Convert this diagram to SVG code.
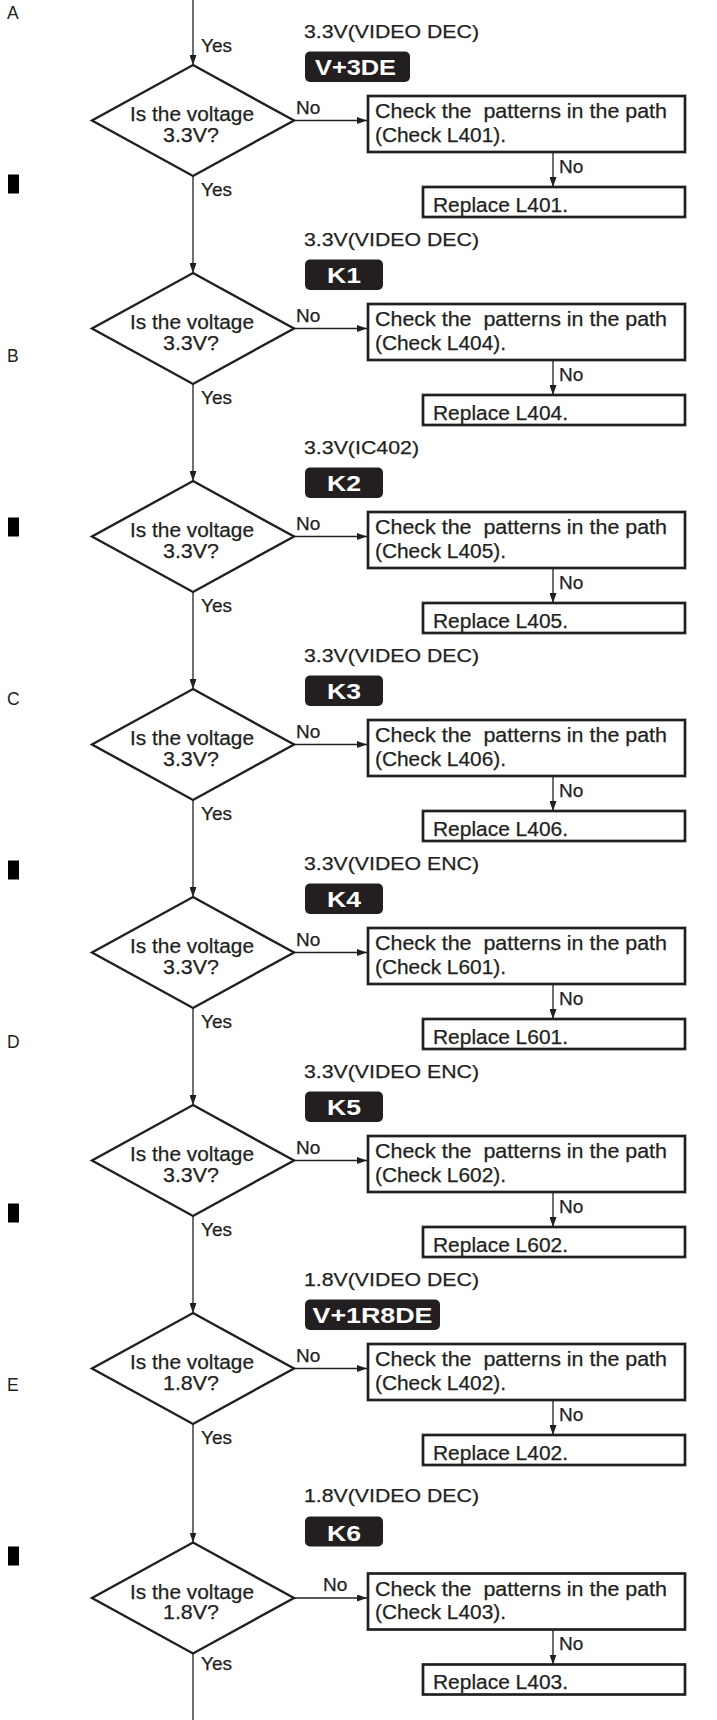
<svg xmlns="http://www.w3.org/2000/svg" width="717" height="1720" viewBox="0 0 717 1720">
<style>
.t{font-family:"Liberation Sans",Arial,Helvetica,sans-serif;font-size:19px;fill:#231f20;stroke:#231f20;stroke-width:0.25}
.n{font-size:20px}
.m{font-family:"Liberation Sans",Arial,Helvetica,sans-serif;font-size:17.5px;fill:#231f20}
.b{font-family:"Liberation Sans",Arial,Helvetica,sans-serif;font-size:22.5px;font-weight:bold;fill:#fff}
.box{fill:#fff;stroke:#231f20;stroke-width:2.7}
.dia{fill:#fff;stroke:#231f20;stroke-width:2.4;stroke-linejoin:miter}
.ln{stroke:#231f20;stroke-width:1.3;fill:none}
.lab{fill:#231f20}
.bar{fill:#000}
</style>
<defs>
<marker id="ah" markerUnits="userSpaceOnUse" markerWidth="10" markerHeight="7" refX="10" refY="3.5" orient="auto">
<path d="M0,0 L10,3.5 L0,7 z" fill="#231f20"/>
</marker>
</defs>
<rect width="717" height="1720" fill="#fff"/>

<g id="margin">
<text class="m" x="7" y="19.3">A</text>
<text class="m" x="7" y="362">B</text>
<text class="m" x="7" y="705">C</text>
<text class="m" x="7" y="1048">D</text>
<text class="m" x="7" y="1391">E</text>
<rect class="bar" x="8" y="174.5" width="11" height="19"/>
<rect class="bar" x="8" y="517.5" width="11" height="19"/>
<rect class="bar" x="8" y="860.5" width="11" height="19"/>
<rect class="bar" x="8" y="1203.5" width="11" height="19"/>
<rect class="bar" x="8" y="1546.5" width="11" height="19"/>
</g>

<g id="connectors">
<line class="ln" x1="193" y1="0" x2="193" y2="65" marker-end="url(#ah)"/>
<line class="ln" x1="193" y1="176" x2="193" y2="273" marker-end="url(#ah)"/>
<line class="ln" x1="193" y1="384" x2="193" y2="481" marker-end="url(#ah)"/>
<line class="ln" x1="193" y1="592" x2="193" y2="689" marker-end="url(#ah)"/>
<line class="ln" x1="193" y1="800" x2="193" y2="897" marker-end="url(#ah)"/>
<line class="ln" x1="193" y1="1008" x2="193" y2="1105" marker-end="url(#ah)"/>
<line class="ln" x1="193" y1="1216" x2="193" y2="1313" marker-end="url(#ah)"/>
<line class="ln" x1="193" y1="1424" x2="193" y2="1542.5" marker-end="url(#ah)"/>
<line class="ln" x1="193" y1="1653.5" x2="193" y2="1720"/>

<line class="ln" x1="294" y1="120.5" x2="367" y2="120.5" marker-end="url(#ah)"/>
<line class="ln" x1="294" y1="328.5" x2="367" y2="328.5" marker-end="url(#ah)"/>
<line class="ln" x1="294" y1="536.5" x2="367" y2="536.5" marker-end="url(#ah)"/>
<line class="ln" x1="294" y1="744.5" x2="367" y2="744.5" marker-end="url(#ah)"/>
<line class="ln" x1="294" y1="952.5" x2="367" y2="952.5" marker-end="url(#ah)"/>
<line class="ln" x1="294" y1="1160.5" x2="367" y2="1160.5" marker-end="url(#ah)"/>
<line class="ln" x1="294" y1="1368.5" x2="367" y2="1368.5" marker-end="url(#ah)"/>
<line class="ln" x1="294" y1="1598" x2="367" y2="1598" marker-end="url(#ah)"/>

<line class="ln" x1="553" y1="152" x2="553" y2="187" marker-end="url(#ah)"/>
<line class="ln" x1="553" y1="360" x2="553" y2="395" marker-end="url(#ah)"/>
<line class="ln" x1="553" y1="568" x2="553" y2="603" marker-end="url(#ah)"/>
<line class="ln" x1="553" y1="776" x2="553" y2="811" marker-end="url(#ah)"/>
<line class="ln" x1="553" y1="984" x2="553" y2="1019" marker-end="url(#ah)"/>
<line class="ln" x1="553" y1="1192" x2="553" y2="1227" marker-end="url(#ah)"/>
<line class="ln" x1="553" y1="1400" x2="553" y2="1435" marker-end="url(#ah)"/>
<line class="ln" x1="553" y1="1629.5" x2="553" y2="1664.5" marker-end="url(#ah)"/>

<text class="t" x="201" y="51.7">Yes</text>
<text class="t" x="201" y="196">Yes</text>
<text class="t" x="201" y="404">Yes</text>
<text class="t" x="201" y="612">Yes</text>
<text class="t" x="201" y="820">Yes</text>
<text class="t" x="201" y="1028">Yes</text>
<text class="t" x="201" y="1236">Yes</text>
<text class="t" x="201" y="1444">Yes</text>
<text class="t" x="201" y="1670">Yes</text>

<text class="t" x="296" y="114">No</text>
<text class="t" x="296" y="322">No</text>
<text class="t" x="296" y="530">No</text>
<text class="t" x="296" y="738">No</text>
<text class="t" x="296" y="946">No</text>
<text class="t" x="296" y="1154">No</text>
<text class="t" x="296" y="1362">No</text>
<text class="t" x="323" y="1590.5">No</text>

<text class="t" x="559" y="172.7">No</text>
<text class="t" x="559" y="380.7">No</text>
<text class="t" x="559" y="588.7">No</text>
<text class="t" x="559" y="796.7">No</text>
<text class="t" x="559" y="1004.7">No</text>
<text class="t" x="559" y="1212.7">No</text>
<text class="t" x="559" y="1420.7">No</text>
<text class="t" x="559" y="1650">No</text>
</g>

<!-- Section 1 -->
<g id="label1" transform="translate(0,0)">
<text class="t" x="304" y="38" textLength="175" lengthAdjust="spacingAndGlyphs">3.3V(VIDEO DEC)</text>
<rect class="lab" x="305" y="51.5" width="105" height="30.5" rx="5"/>
<text class="b" x="315" y="75" textLength="81" lengthAdjust="spacingAndGlyphs">V+3DE</text>
</g>
<g id="decision1" transform="translate(0,0)">
<polygon class="dia" points="193,65 294,120.5 193,176 92,120.5"/>
<text class="t n" x="192" y="121" text-anchor="middle" textLength="124" lengthAdjust="spacingAndGlyphs">Is the voltage</text>
<text class="t n" x="191" y="141.7" text-anchor="middle" textLength="56" lengthAdjust="spacingAndGlyphs">3.3V?</text>
</g>
<g id="check1" transform="translate(0,0)">
<rect class="box" x="368" y="96" width="317" height="56"/>
<text class="t n" x="375" y="118.3" textLength="292" lengthAdjust="spacingAndGlyphs" xml:space="preserve">Check the  patterns in the path</text>
<text class="t n" x="375" y="141.7" textLength="131" lengthAdjust="spacingAndGlyphs">(Check L401).</text>
</g>
<g id="replace1" transform="translate(0,0)">
<rect class="box" x="423" y="187" width="262" height="30"/>
<text class="t n" x="433" y="211.7" textLength="135" lengthAdjust="spacingAndGlyphs">Replace L401.</text>
</g>

<!-- Section 2 -->
<g id="label2" transform="translate(0,208)">
<text class="t" x="304" y="38" textLength="175" lengthAdjust="spacingAndGlyphs">3.3V(VIDEO DEC)</text>
<rect class="lab" x="305" y="51.5" width="78" height="30.5" rx="5"/>
<text class="b" x="344" y="75" text-anchor="middle" textLength="34" lengthAdjust="spacingAndGlyphs">K1</text>
</g>
<g id="decision2" transform="translate(0,208)">
<polygon class="dia" points="193,65 294,120.5 193,176 92,120.5"/>
<text class="t n" x="192" y="121" text-anchor="middle" textLength="124" lengthAdjust="spacingAndGlyphs">Is the voltage</text>
<text class="t n" x="191" y="141.7" text-anchor="middle" textLength="56" lengthAdjust="spacingAndGlyphs">3.3V?</text>
</g>
<g id="check2" transform="translate(0,208)">
<rect class="box" x="368" y="96" width="317" height="56"/>
<text class="t n" x="375" y="118.3" textLength="292" lengthAdjust="spacingAndGlyphs" xml:space="preserve">Check the  patterns in the path</text>
<text class="t n" x="375" y="141.7" textLength="131" lengthAdjust="spacingAndGlyphs">(Check L404).</text>
</g>
<g id="replace2" transform="translate(0,208)">
<rect class="box" x="423" y="187" width="262" height="30"/>
<text class="t n" x="433" y="211.7" textLength="135" lengthAdjust="spacingAndGlyphs">Replace L404.</text>
</g>

<!-- Section 3 -->
<g id="label3" transform="translate(0,416)">
<text class="t" x="304" y="38" textLength="115" lengthAdjust="spacingAndGlyphs">3.3V(IC402)</text>
<rect class="lab" x="305" y="51.5" width="78" height="30.5" rx="5"/>
<text class="b" x="344" y="75" text-anchor="middle" textLength="34" lengthAdjust="spacingAndGlyphs">K2</text>
</g>
<g id="decision3" transform="translate(0,416)">
<polygon class="dia" points="193,65 294,120.5 193,176 92,120.5"/>
<text class="t n" x="192" y="121" text-anchor="middle" textLength="124" lengthAdjust="spacingAndGlyphs">Is the voltage</text>
<text class="t n" x="191" y="141.7" text-anchor="middle" textLength="56" lengthAdjust="spacingAndGlyphs">3.3V?</text>
</g>
<g id="check3" transform="translate(0,416)">
<rect class="box" x="368" y="96" width="317" height="56"/>
<text class="t n" x="375" y="118.3" textLength="292" lengthAdjust="spacingAndGlyphs" xml:space="preserve">Check the  patterns in the path</text>
<text class="t n" x="375" y="141.7" textLength="131" lengthAdjust="spacingAndGlyphs">(Check L405).</text>
</g>
<g id="replace3" transform="translate(0,416)">
<rect class="box" x="423" y="187" width="262" height="30"/>
<text class="t n" x="433" y="211.7" textLength="135" lengthAdjust="spacingAndGlyphs">Replace L405.</text>
</g>

<!-- Section 4 -->
<g id="label4" transform="translate(0,624)">
<text class="t" x="304" y="38" textLength="175" lengthAdjust="spacingAndGlyphs">3.3V(VIDEO DEC)</text>
<rect class="lab" x="305" y="51.5" width="78" height="30.5" rx="5"/>
<text class="b" x="344" y="75" text-anchor="middle" textLength="34" lengthAdjust="spacingAndGlyphs">K3</text>
</g>
<g id="decision4" transform="translate(0,624)">
<polygon class="dia" points="193,65 294,120.5 193,176 92,120.5"/>
<text class="t n" x="192" y="121" text-anchor="middle" textLength="124" lengthAdjust="spacingAndGlyphs">Is the voltage</text>
<text class="t n" x="191" y="141.7" text-anchor="middle" textLength="56" lengthAdjust="spacingAndGlyphs">3.3V?</text>
</g>
<g id="check4" transform="translate(0,624)">
<rect class="box" x="368" y="96" width="317" height="56"/>
<text class="t n" x="375" y="118.3" textLength="292" lengthAdjust="spacingAndGlyphs" xml:space="preserve">Check the  patterns in the path</text>
<text class="t n" x="375" y="141.7" textLength="131" lengthAdjust="spacingAndGlyphs">(Check L406).</text>
</g>
<g id="replace4" transform="translate(0,624)">
<rect class="box" x="423" y="187" width="262" height="30"/>
<text class="t n" x="433" y="211.7" textLength="135" lengthAdjust="spacingAndGlyphs">Replace L406.</text>
</g>

<!-- Section 5 -->
<g id="label5" transform="translate(0,832)">
<text class="t" x="304" y="38" textLength="175" lengthAdjust="spacingAndGlyphs">3.3V(VIDEO ENC)</text>
<rect class="lab" x="305" y="51.5" width="78" height="30.5" rx="5"/>
<text class="b" x="344" y="75" text-anchor="middle" textLength="34" lengthAdjust="spacingAndGlyphs">K4</text>
</g>
<g id="decision5" transform="translate(0,832)">
<polygon class="dia" points="193,65 294,120.5 193,176 92,120.5"/>
<text class="t n" x="192" y="121" text-anchor="middle" textLength="124" lengthAdjust="spacingAndGlyphs">Is the voltage</text>
<text class="t n" x="191" y="141.7" text-anchor="middle" textLength="56" lengthAdjust="spacingAndGlyphs">3.3V?</text>
</g>
<g id="check5" transform="translate(0,832)">
<rect class="box" x="368" y="96" width="317" height="56"/>
<text class="t n" x="375" y="118.3" textLength="292" lengthAdjust="spacingAndGlyphs" xml:space="preserve">Check the  patterns in the path</text>
<text class="t n" x="375" y="141.7" textLength="131" lengthAdjust="spacingAndGlyphs">(Check L601).</text>
</g>
<g id="replace5" transform="translate(0,832)">
<rect class="box" x="423" y="187" width="262" height="30"/>
<text class="t n" x="433" y="211.7" textLength="135" lengthAdjust="spacingAndGlyphs">Replace L601.</text>
</g>

<!-- Section 6 -->
<g id="label6" transform="translate(0,1040)">
<text class="t" x="304" y="38" textLength="175" lengthAdjust="spacingAndGlyphs">3.3V(VIDEO ENC)</text>
<rect class="lab" x="305" y="51.5" width="78" height="30.5" rx="5"/>
<text class="b" x="344" y="75" text-anchor="middle" textLength="34" lengthAdjust="spacingAndGlyphs">K5</text>
</g>
<g id="decision6" transform="translate(0,1040)">
<polygon class="dia" points="193,65 294,120.5 193,176 92,120.5"/>
<text class="t n" x="192" y="121" text-anchor="middle" textLength="124" lengthAdjust="spacingAndGlyphs">Is the voltage</text>
<text class="t n" x="191" y="141.7" text-anchor="middle" textLength="56" lengthAdjust="spacingAndGlyphs">3.3V?</text>
</g>
<g id="check6" transform="translate(0,1040)">
<rect class="box" x="368" y="96" width="317" height="56"/>
<text class="t n" x="375" y="118.3" textLength="292" lengthAdjust="spacingAndGlyphs" xml:space="preserve">Check the  patterns in the path</text>
<text class="t n" x="375" y="141.7" textLength="131" lengthAdjust="spacingAndGlyphs">(Check L602).</text>
</g>
<g id="replace6" transform="translate(0,1040)">
<rect class="box" x="423" y="187" width="262" height="30"/>
<text class="t n" x="433" y="211.7" textLength="135" lengthAdjust="spacingAndGlyphs">Replace L602.</text>
</g>

<!-- Section 7 -->
<g id="label7" transform="translate(0,1248)">
<text class="t" x="304" y="38" textLength="175" lengthAdjust="spacingAndGlyphs">1.8V(VIDEO DEC)</text>
<rect class="lab" x="305" y="51.5" width="135" height="30.5" rx="5"/>
<text class="b" x="312.5" y="75" textLength="120" lengthAdjust="spacingAndGlyphs">V+1R8DE</text>
</g>
<g id="decision7" transform="translate(0,1248)">
<polygon class="dia" points="193,65 294,120.5 193,176 92,120.5"/>
<text class="t n" x="192" y="121" text-anchor="middle" textLength="124" lengthAdjust="spacingAndGlyphs">Is the voltage</text>
<text class="t n" x="191" y="141.7" text-anchor="middle" textLength="56" lengthAdjust="spacingAndGlyphs">1.8V?</text>
</g>
<g id="check7" transform="translate(0,1248)">
<rect class="box" x="368" y="96" width="317" height="56"/>
<text class="t n" x="375" y="118.3" textLength="292" lengthAdjust="spacingAndGlyphs" xml:space="preserve">Check the  patterns in the path</text>
<text class="t n" x="375" y="141.7" textLength="131" lengthAdjust="spacingAndGlyphs">(Check L402).</text>
</g>
<g id="replace7" transform="translate(0,1248)">
<rect class="box" x="423" y="187" width="262" height="30"/>
<text class="t n" x="433" y="211.7" textLength="135" lengthAdjust="spacingAndGlyphs">Replace L402.</text>
</g>

<!-- Section 8 -->
<g id="label8" transform="translate(0,1477.5)">
<text class="t" x="304" y="24.2" textLength="175" lengthAdjust="spacingAndGlyphs">1.8V(VIDEO DEC)</text>
<rect class="lab" x="305" y="39" width="78" height="30" rx="5"/>
<text class="b" x="344" y="63" text-anchor="middle" textLength="34" lengthAdjust="spacingAndGlyphs">K6</text>
</g>
<g id="decision8" transform="translate(0,1477.5)">
<polygon class="dia" points="193,65 294,120.5 193,176 92,120.5"/>
<text class="t n" x="192" y="121" text-anchor="middle" textLength="124" lengthAdjust="spacingAndGlyphs">Is the voltage</text>
<text class="t n" x="191" y="141.7" text-anchor="middle" textLength="56" lengthAdjust="spacingAndGlyphs">1.8V?</text>
</g>
<g id="check8" transform="translate(0,1477.5)">
<rect class="box" x="368" y="96" width="317" height="56"/>
<text class="t n" x="375" y="118.3" textLength="292" lengthAdjust="spacingAndGlyphs" xml:space="preserve">Check the  patterns in the path</text>
<text class="t n" x="375" y="141.7" textLength="131" lengthAdjust="spacingAndGlyphs">(Check L403).</text>
</g>
<g id="replace8" transform="translate(0,1477.5)">
<rect class="box" x="423" y="187" width="262" height="30"/>
<text class="t n" x="433" y="211.7" textLength="135" lengthAdjust="spacingAndGlyphs">Replace L403.</text>
</g>
</svg>
